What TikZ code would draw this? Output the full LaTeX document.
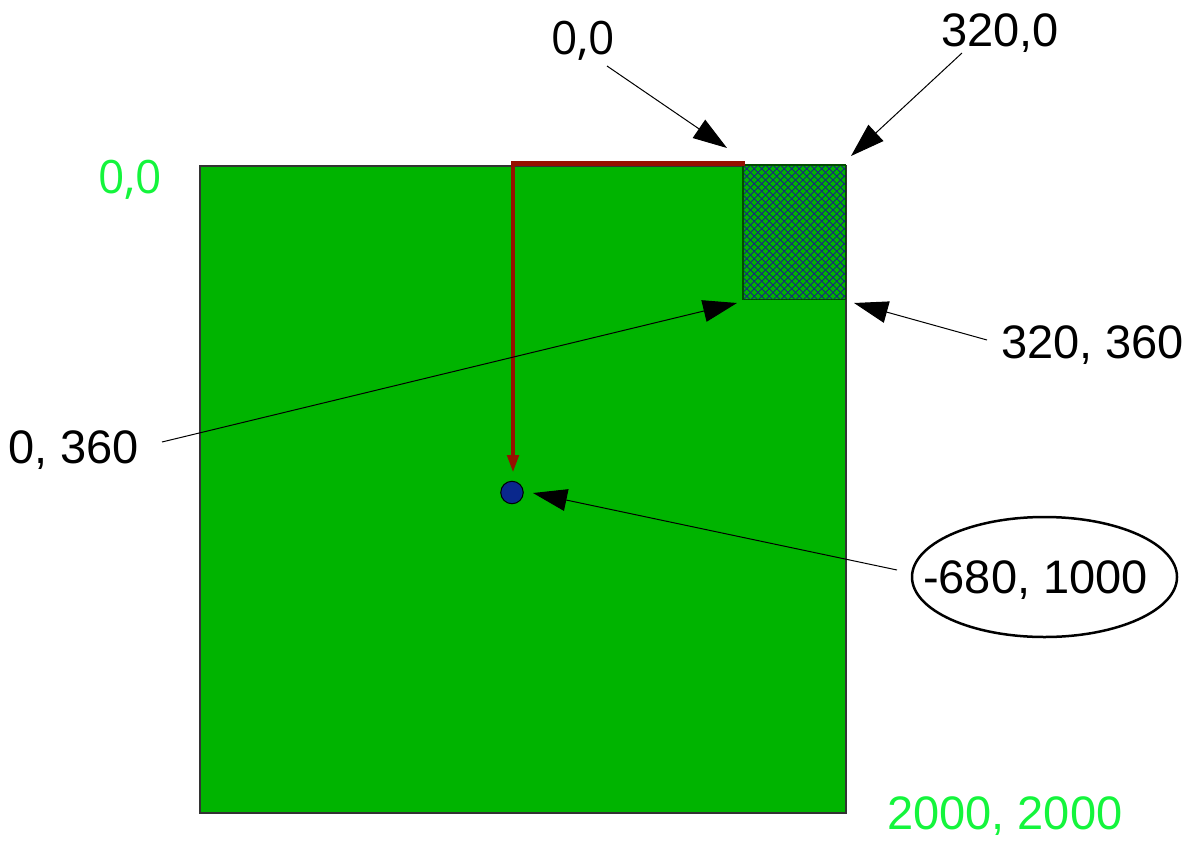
\documentclass[tikz,border=0pt]{standalone}
\usepackage{fontspec}
\setmainfont{Liberation Sans}
\newfontfamily\osans{Open Sans}
\usetikzlibrary{arrows.meta,shapes.geometric,calc}
\definecolor{board}{RGB}{0,180,0}
\definecolor{lightgreen}{RGB}{20,245,60}
\definecolor{darkred}{RGB}{150,16,0}
\definecolor{dotblue}{RGB}{10,40,140}
\definecolor{hatchblue}{RGB}{25,35,130}
\begin{document}
\begin{tikzpicture}[x=1pt,y=-1pt,
  lbl/.style={inner sep=0pt, anchor=base west, font=\fontsize{47}{56}\selectfont},
  olbl/.style={inner sep=0pt, anchor=base west, font=\osans\fontsize{46}{55}\selectfont},
  pointer/.style={line width=1pt, -{Triangle[length=34pt,width=22pt]}},
  hatchline/.style={hatchblue, line width=0.8pt},
]
\useasboundingbox (0,0) rectangle (1201,840);
% board
\node[draw=black!80, line width=1.5pt, fill=board, minimum width=646pt, minimum height=647pt,
      inner sep=0pt, anchor=north west] (board) at (199,165) {};
% hatched cut-out
\node[fill=board, minimum width=102pt, minimum height=134pt, inner sep=0pt, anchor=north west] (cut) at (743,165) {};
\begin{scope}
  \clip (cut.north west) rectangle (cut.south east);
  \foreach \k in {-20,...,34} {
    \draw[hatchline] (743+\k*7.5,165) -- ++(-160,160);
    \draw[hatchline] (743+\k*7.5,165) -- ++(160,160);
  }
\end{scope}
\draw[line width=1.5pt, draw=black!70!green] (cut.north west) rectangle (cut.south east);
% red path
\coordinate (redstart) at (745,163.5);
\coordinate (redtip) at (513,473);
\draw[darkred, line width=4.5pt, -{Triangle[length=18pt,width=11pt]}]
  (redstart) -- (redstart -| redtip) -- (redtip);
% dot
\node[circle, fill=dotblue, draw=black, line width=1pt, minimum size=22.5pt, inner sep=0pt] (dot) at (512,492.5) {};
% labels
\node[olbl] (l00) at (551,55) {0,0};
\node[lbl] (l3200) at (941,47) {320,0};
\node[lbl] (l320360) at (1001,358) {320, 360};
\node[lbl] (l0360) at (8,463) {0, 360};
\node[lbl] (lpt) at (923,593) {-680, 1000};
\node[draw, ellipse, line width=2.5pt, minimum width=265pt, minimum height=120pt, inner sep=0pt] (oval) at (1044.5,577) {};
\node[olbl, text=lightgreen] (g00) at (98,193) {0,0};
\node[lbl, text=lightgreen] (g2000) at (887,829) {2000, 2000};
% pointers
\coordinate (a1s) at (607,66);  \coordinate (a1t) at (727,148);
\coordinate (a2s) at (962,53);  \coordinate (a2t) at (851,156);
\coordinate (a3s) at (987,340); \coordinate (a3t) at (854,303);
\coordinate (a4s) at (162,442); \coordinate (a4t) at (737,303);
\coordinate (a5s) at (897,570); \coordinate (a5t) at (533,493);
\draw[pointer] (a1s) -- (a1t);
\draw[pointer] (a2s) -- (a2t);
\draw[pointer] (a3s) -- (a3t);
\draw[pointer] (a4s) -- (a4t);
\draw[pointer] (a5s) -- (a5t);
\end{tikzpicture}
\end{document}
